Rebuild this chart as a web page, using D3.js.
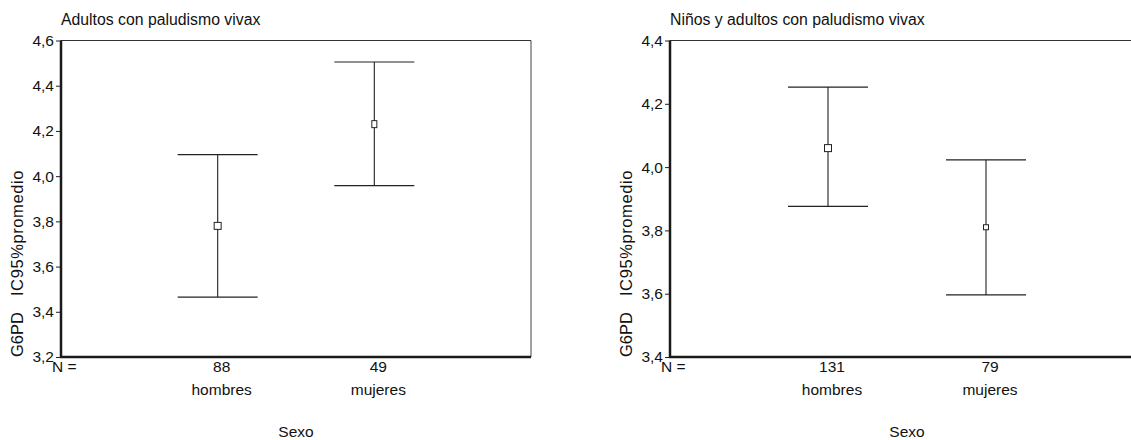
<!DOCTYPE html>
<html>
<head>
<meta charset="utf-8">
<script src="https://cdn.jsdelivr.net/npm/d3@7/dist/d3.min.js"></script>
<style>
  html, body { margin: 0; padding: 0; background: #fff; }
  svg { display: block; font-family: "Liberation Sans", Arial, Helvetica, sans-serif; }
</style>
</head>
<body>
<svg id="chart" width="1131" height="440"></svg>
<script>
// ---- data ----
const categories = ["hombres", "mujeres"];
const titles = ["Adultos con paludismo vivax", "Niños y adultos con paludismo vivax"];
const adultMean = [3.78, 4.23];
const adultLow  = [3.465, 3.958];
const adultHigh = [4.095, 4.505];
const adultN    = [88, 49];
const allMean = [4.06, 3.81];
const allLow  = [3.876, 3.596];
const allHigh = [4.253, 4.023];
const allN    = [131, 79];
const adultTicks = [3.2, 3.4, 3.6, 3.8, 4.0, 4.2, 4.4, 4.6];
const allTicks   = [3.4, 3.6, 3.8, 4.0, 4.2, 4.4];
const yLabelA = "G6PD";
const yLabelB = "IC95%promedio";
const xLabel = "Sexo";

const svg = d3.select("#chart");
const fmt = d => d3.format(".1f")(d).replace(".", ",");

function panel(opt) {
  const g = svg.append("g");
  const x = d3.scalePoint().domain(categories).range([opt.x0, opt.x1]).padding(1);
  const y = d3.scaleLinear().domain(opt.domain).range([opt.y1, opt.y0]);

  // title
  g.append("text").attr("x", opt.x0).attr("y", 25)
    .attr("font-size", 15.8).attr("fill", "#111").text(opt.title);

  // frame: thin top/right
  g.append("line").attr("x1", opt.x0).attr("x2", opt.x1).attr("y1", opt.y0).attr("y2", opt.y0)
    .attr("stroke", "#333").attr("stroke-width", 1.2);
  g.append("line").attr("x1", opt.x1).attr("x2", opt.x1).attr("y1", opt.y0).attr("y2", opt.y1)
    .attr("stroke", "#444").attr("stroke-width", 1);

  // y axis
  const ax = g.append("g").attr("transform", `translate(${opt.x0},0)`)
    .call(d3.axisLeft(y).tickValues(opt.ticks).tickSize(5).tickPadding(2).tickFormat(fmt));
  ax.select(".domain").remove();
  ax.selectAll("line").attr("stroke", "#222");
  ax.selectAll("text").attr("font-size", 15.5).attr("fill", "#111")
    .attr("font-family", "'Liberation Sans', Arial, sans-serif");

  // thick left + bottom axis lines
  g.append("line").attr("x1", opt.x0).attr("x2", opt.x0).attr("y1", opt.y0).attr("y2", opt.y1 + 1)
    .attr("stroke", "#1a1a1a").attr("stroke-width", 2.5);
  g.append("line").attr("x1", opt.x0 - 1).attr("x2", opt.x1).attr("y1", opt.y1).attr("y2", opt.y1)
    .attr("stroke", "#1a1a1a").attr("stroke-width", 2.5);

  // y label
  const yl = g.append("text")
    .attr("transform", `translate(${opt.x0 - 38},${opt.y1}) rotate(-90)`)
    .attr("font-size", 16.5).attr("fill", "#111");
  yl.append("tspan").text(yLabelA);
  yl.append("tspan").attr("dx", 16).attr("letter-spacing", 0.6).text(yLabelB);

  // N =
  g.append("text").attr("x", opt.x0 - 9).attr("y", opt.y1 + 15)
    .attr("font-size", 15.5).attr("fill", "#111").text("N =");

  const rows = categories.map((c, i) => ({ c, m: opt.mean[i], lo: opt.low[i], hi: opt.high[i], n: opt.n[i], bw: opt.boxW[i], bh: opt.boxH[i] }));

  // counts & category labels
  g.selectAll(".cnt").data(rows).enter().append("text")
    .attr("x", d => x(d.c) + 4).attr("y", opt.y1 + 15).attr("text-anchor", "middle")
    .attr("font-size", 15.5).attr("fill", "#111").text(d => d.n);
  g.selectAll(".cat").data(rows).enter().append("text")
    .attr("x", d => x(d.c) + 4).attr("y", opt.y1 + 38).attr("text-anchor", "middle")
    .attr("font-size", 15.5).attr("fill", "#111").text(d => d.c);

  // x label
  g.append("text").attr("x", (opt.x0 + opt.x1) / 2).attr("y", 437).attr("text-anchor", "middle")
    .attr("font-size", 15.5).attr("fill", "#111").text(xLabel);

  // error bars
  const eb = g.selectAll(".eb").data(rows).enter().append("g");
  const cap = 40;
  eb.append("line").attr("x1", d => x(d.c)).attr("x2", d => x(d.c))
    .attr("y1", d => y(d.hi)).attr("y2", d => y(d.lo)).attr("stroke", "#333").attr("stroke-width", 1.2);
  eb.append("line").attr("x1", d => x(d.c) - cap).attr("x2", d => x(d.c) + cap)
    .attr("y1", d => y(d.hi)).attr("y2", d => y(d.hi)).attr("stroke", "#222").attr("stroke-width", 1.2);
  eb.append("line").attr("x1", d => x(d.c) - cap).attr("x2", d => x(d.c) + cap)
    .attr("y1", d => y(d.lo)).attr("y2", d => y(d.lo)).attr("stroke", "#222").attr("stroke-width", 1.2);
  eb.append("rect")
    .attr("x", d => x(d.c) - d.bw / 2).attr("y", d => y(d.m) - d.bh / 2)
    .attr("width", d => d.bw).attr("height", d => d.bh)
    .attr("fill", "#fff").attr("stroke", "#222").attr("stroke-width", 1);
}

panel({ x0: 61, x1: 531, y0: 40.5, y1: 357, domain: [3.2, 4.6], ticks: adultTicks,
  title: titles[0], mean: adultMean, low: adultLow, high: adultHigh, n: adultN,
  boxW: [7, 5], boxH: [7, 7] });
panel({ x0: 670, x1: 1144, y0: 40.5, y1: 357, domain: [3.4, 4.4], ticks: allTicks,
  title: titles[1], mean: allMean, low: allLow, high: allHigh, n: allN,
  boxW: [7, 5], boxH: [7, 5] });
</script>
</body>
</html>
